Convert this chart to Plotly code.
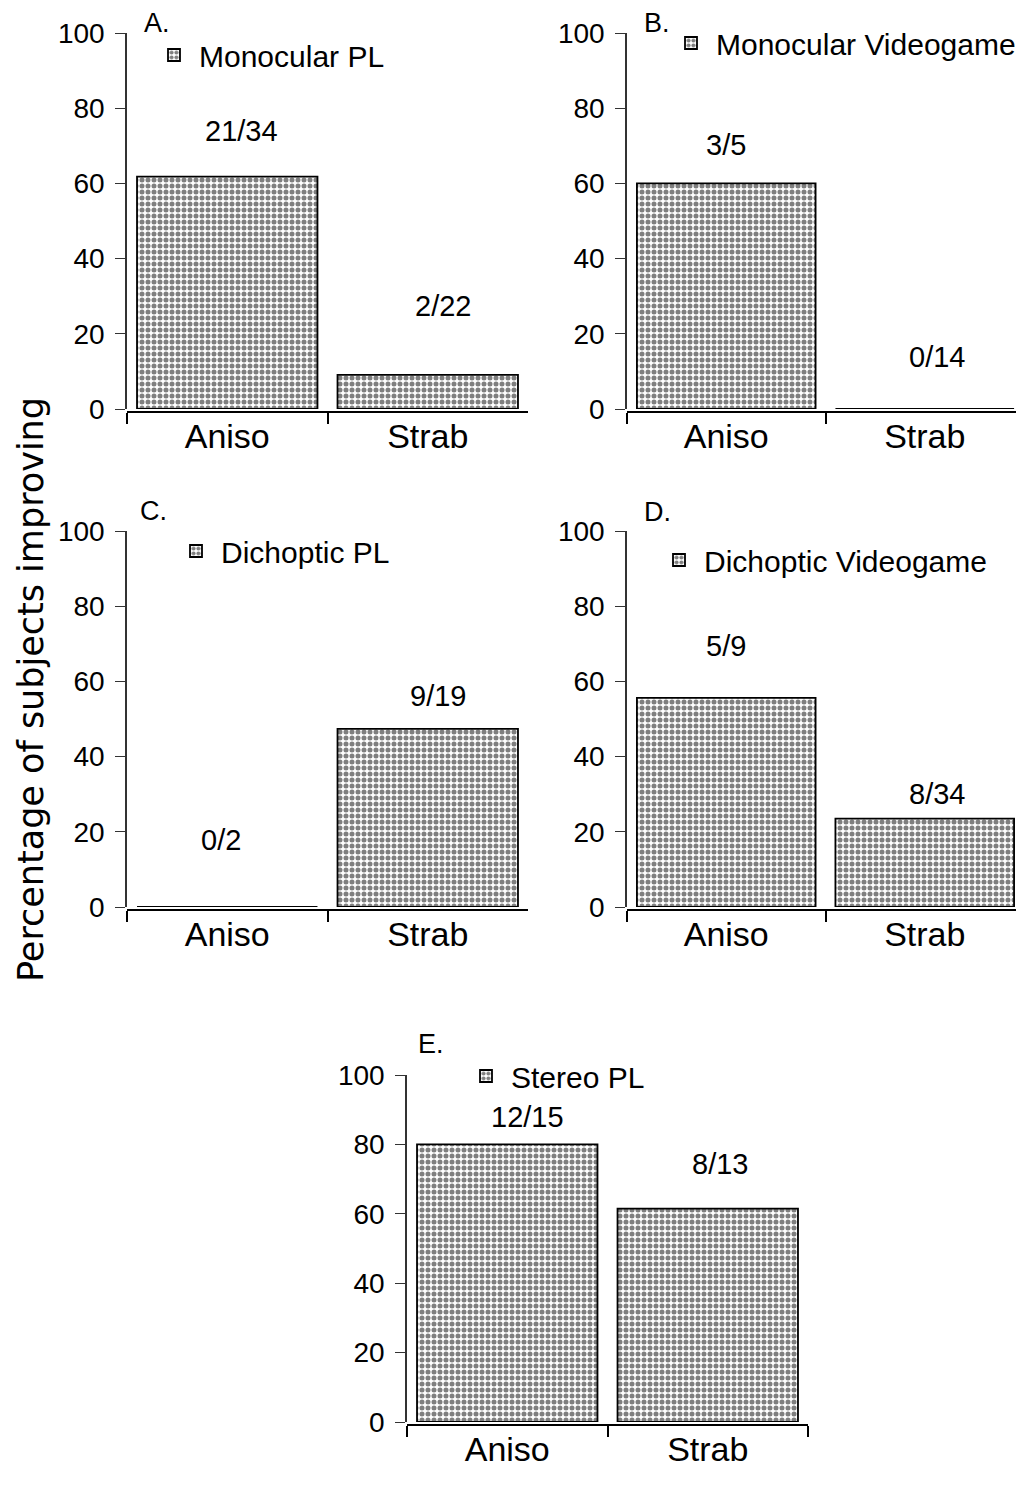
import plotly.graph_objects as go

# ---------------- data ----------------
categories = ["Aniso", "Strab"]
panel_letters = ["A.", "B.", "C.", "D.", "E."]
panel_names = ["Monocular PL", "Monocular Videogame", "Dichoptic PL",
               "Dichoptic Videogame", "Stereo PL"]
pct_A = [61.8, 9.1]
pct_B = [60.0, 0.0]
pct_C = [0.0, 47.4]
pct_D = [55.6, 23.5]
pct_E = [80.0, 61.5]
frac_A = ["21/34", "2/22"]
frac_B = ["3/5", "0/14"]
frac_C = ["0/2", "9/19"]
frac_D = ["5/9", "8/34"]
frac_E = ["12/15", "8/13"]
y_ticks = [0, 20, 40, 60, 80, 100]

values = [pct_A, pct_B, pct_C, pct_D, pct_E]
fracs = [frac_A, frac_B, frac_C, frac_D, frac_E]

# ---------------- layout / style ----------------
OFF = 8                      # default page body margin
W, H = 1024 - OFF, 1493 - OFF
FONT = "Liberation Sans, Arial, Helvetica, sans-serif"

def px_x(p):
    return (p - OFF) / W

def px_y(p):
    return (H - (p - OFF)) / H

# pixel geometry of each panel (page coords): (x_left, x_right, y_zero, y_hundred)
geom = [
    (127, 528, 409, 33),
    (627, 1024, 409, 33),
    (127, 528, 907, 531),
    (627, 1024, 907, 531),
    (407, 808, 1422, 1075),
]
legend_pos = [(149, 55), (666, 43), (171, 551), (654, 560), (461, 1076)]
letter_pos = [(143, 23), (643, 23), (139, 511), (643, 512), (417, 1044)]
label_offsets = [[12.2, 18.3], [10.2, 13.8], [17.8, 8.7], [13.8, 6.6], [7.9, 12.9]]
label_xshift = [[14, 15], [0, 12], [-6, 10], [0, 12], [20, 12]]

fig = go.Figure()
layout = dict(
    width=W, height=H,
    margin=dict(l=0, r=0, t=0, b=0),
    paper_bgcolor="white", plot_bgcolor="white",
    bargap=0.1,
    showlegend=True,
    font=dict(family=FONT, color="black"),
    annotations=[],
)

for i in range(5):
    xl, xr, y0, y100 = geom[i]
    sfx = "" if i == 0 else str(i + 1)
    xa, ya = "x" + sfx, "y" + sfx
    leg = "legend" + sfx
    fig.add_trace(go.Bar(
        x=categories, y=values[i], name=panel_names[i],
        xaxis=xa, yaxis=ya, legend=leg,
        marker=dict(color="white",
                    line=dict(color="black", width=1.8),
                    pattern=dict(shape=".", fgcolor="black", bgcolor="white",
                                 size=6, solidity=0.55)),
        width=0.9,
        hoverinfo="skip",
    ))
    layout["xaxis" + sfx] = dict(
        domain=[px_x(xl), px_x(xr)], anchor="free", position=px_y(y0 + 3),
        range=[-0.5, 1.5], type="category", tickson="boundaries",
        ticks="outside", ticklen=11, tickwidth=1.6, tickcolor="black",
        showline=True, linecolor="black", linewidth=2,
        showgrid=False, zeroline=False, automargin=False,
        ticklabelstandoff=-6,
        tickfont=dict(family=FONT, size=34, color="black"),
        fixedrange=True,
    )
    layout["yaxis" + sfx] = dict(
        domain=[px_y(y0), px_y(y100)], anchor=xa,
        range=[0, 100], tickvals=y_ticks,
        ticks="outside", ticklen=10, tickwidth=1.3, tickcolor="#333",
        showline=True, linecolor="#333", linewidth=1.5,
        showgrid=False, zeroline=False, automargin=False,
        ticklabelstandoff=5,
        tickfont=dict(family=FONT, size=28, color="black"),
        fixedrange=True,
    )
    lx, ly = legend_pos[i]
    layout[leg] = dict(
        x=px_x(lx), y=px_y(ly), xanchor="left", yanchor="middle",
        bgcolor="rgba(0,0,0,0)", borderwidth=0, itemwidth=40,
        font=dict(family=FONT, size=30, color="black"),
    )
    tx, ty = letter_pos[i]
    layout["annotations"].append(dict(
        text=panel_letters[i], xref="paper", yref="paper",
        x=px_x(tx), y=px_y(ty), xanchor="left", yanchor="middle",
        borderpad=0,
        showarrow=False, font=dict(family=FONT, size=27, color="black"),
    ))
    for j, cat in enumerate(categories):
        layout["annotations"].append(dict(
            text=fracs[i][j], xref=xa, yref=ya,
            x=cat, y=values[i][j] + label_offsets[i][j],
            xshift=label_xshift[i][j],
            xanchor="center", yanchor="middle", showarrow=False,
            font=dict(family=FONT, size=29, color="black"),
        ))

layout["annotations"].append(dict(
    text="Percentage of subjects improving", xref="paper", yref="paper",
    x=px_x(31), y=px_y(690), xanchor="center", yanchor="middle",
    textangle=-90, showarrow=False,
    font=dict(family="DejaVu Sans, Verdana, sans-serif", size=35, color="black"),
))

fig.update_layout(**layout)
fig.write_html("out.html")
